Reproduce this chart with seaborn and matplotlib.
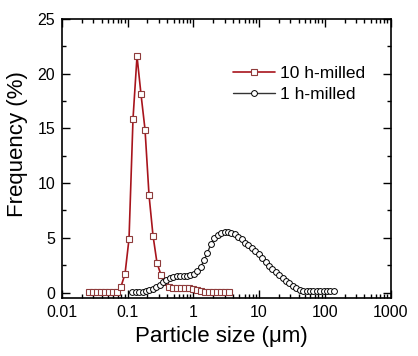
import numpy as np
import pandas as pd
import seaborn as sns
import matplotlib.pyplot as plt
from matplotlib.ticker import AutoMinorLocator

# ====================== DATA =============================================== #

# 10 h-milled (red squares)
size_10h = [0.02576, 0.02965, 0.03409, 0.03926, 0.04519, 0.05200, 0.05984,
            0.06876, 0.07912, 0.09102, 0.1047, 0.1205, 0.1386, 0.1595,
            0.1835, 0.2111, 0.2428, 0.2794, 0.3214, 0.3698, 0.4256, 0.4896,
            0.5633, 0.6481, 0.7457, 0.8580, 0.9872, 1.136, 1.307, 1.504,
            1.730, 1.991, 2.290, 2.635, 3.031, 3.488]
freq_10h = [0.05, 0.05, 0.05, 0.05, 0.05, 0.05, 0.05, 0.05, 0.55, 1.7, 4.9,
            15.9, 21.6, 18.1, 14.9, 8.9, 5.2, 2.7, 1.6, 1.0, 0.55, 0.43,
            0.41, 0.4, 0.38, 0.37, 0.35, 0.25, 0.12, 0.06, 0.05, 0.05, 0.05,
            0.05, 0.05, 0.05]

# 1 h-milled (black circles)
size_1h = [0.1175, 0.1324, 0.1493, 0.1683, 0.1897, 0.2138, 0.2410, 0.2716,
           0.3062, 0.3451, 0.3890, 0.4385, 0.4943, 0.5572, 0.6281, 0.7079,
           0.7980, 0.8995, 1.014, 1.143, 1.288, 1.452, 1.637, 1.845, 2.080,
           2.344, 2.642, 2.979, 3.357, 3.784, 4.266, 4.808, 5.420, 6.109,
           6.887, 7.762, 8.750, 9.863, 11.12, 12.53, 14.13, 15.92, 17.95,
           20.23, 22.80, 25.70, 28.97, 32.66, 36.81, 41.50, 46.77, 52.72,
           59.43, 66.99, 75.51, 85.11, 95.94, 108.1, 121.9, 137.4]
freq_1h = [0.05, 0.05, 0.05, 0.06, 0.1, 0.2, 0.33, 0.53, 0.72, 0.98, 1.17,
           1.33, 1.43, 1.49, 1.52, 1.53, 1.53, 1.6, 1.7, 1.95, 2.3, 2.95,
           3.65, 4.4, 4.95, 5.28, 5.45, 5.52, 5.52, 5.45, 5.34, 5.1, 4.86,
           4.56, 4.32, 4.07, 3.78, 3.5, 3.15, 2.8, 2.43, 2.15, 1.9, 1.6,
           1.33, 1.07, 0.85, 0.62, 0.42, 0.27, 0.17, 0.12, 0.1, 0.1, 0.1,
           0.1, 0.1, 0.1, 0.1, 0.1]

x_ticks = [0.01, 0.1, 1, 10, 100, 1000]
x_tick_labels = ['0.01', '0.1', '1', '10', '100', '1000']
y_ticks = [0, 5, 10, 15, 20, 25]

df10 = pd.DataFrame({'size': size_10h, 'freq': freq_10h})
df1 = pd.DataFrame({'size': size_1h, 'freq': freq_1h})

# ============================== PLOTTING =================================== #

sns.set_style('ticks')
plt.rcParams['font.family'] = ['Liberation Sans', 'DejaVu Sans']
plt.rcParams['text.color'] = 'black'
plt.rcParams['axes.labelcolor'] = 'black'

fig = plt.figure(figsize=(4.18, 3.56), dpi=100)
ax = fig.add_axes([62/418, 58/356, 328.5/418, 279/356])

sns.lineplot(data=df10, x='size', y='freq', ax=ax, color='#a8141c',
             linewidth=1.2, marker='s', markersize=3.8,
             markerfacecolor='white', markeredgecolor='#8e3b3b',
             markeredgewidth=0.8, label='10 h-milled', zorder=2)
sns.lineplot(data=df1, x='size', y='freq', ax=ax, color='#333333',
             linewidth=1.0, marker='o', markersize=4.2,
             markerfacecolor='white', markeredgecolor='black',
             markeredgewidth=0.7, label='1 h-milled', zorder=3)

ax.set_xscale('log')
ax.set_xlim(0.01, 1000)
ax.set_ylim(-0.5, 25)
ax.set_xticks(x_ticks, x_tick_labels)
ax.set_yticks(y_ticks)
ax.yaxis.set_minor_locator(AutoMinorLocator(2))

ax.tick_params(which='both', direction='in', top=True, right=True,
               colors='black', labelsize=11.5, width=1.0)
ax.tick_params(which='major', length=5.5, pad=5)
ax.tick_params(which='minor', length=3)
for s in ax.spines.values():
    s.set_linewidth(1.2)
    s.set_color('black')

ax.set_xlabel('Particle size (\u03bcm)', fontsize=16)
ax.set_ylabel('Frequency (%)', fontsize=16)
ax.xaxis.set_label_coords(0.484, -0.10)
ax.yaxis.set_label_coords(-0.105, 0.552)

ax.legend(loc='upper left', bbox_to_anchor=(0.5, 0.858), frameon=False,
          fontsize=12.5, handlelength=2.4, handletextpad=0.3,
          labelspacing=0.38, borderaxespad=0)

fig.savefig('out.png', dpi=100)
